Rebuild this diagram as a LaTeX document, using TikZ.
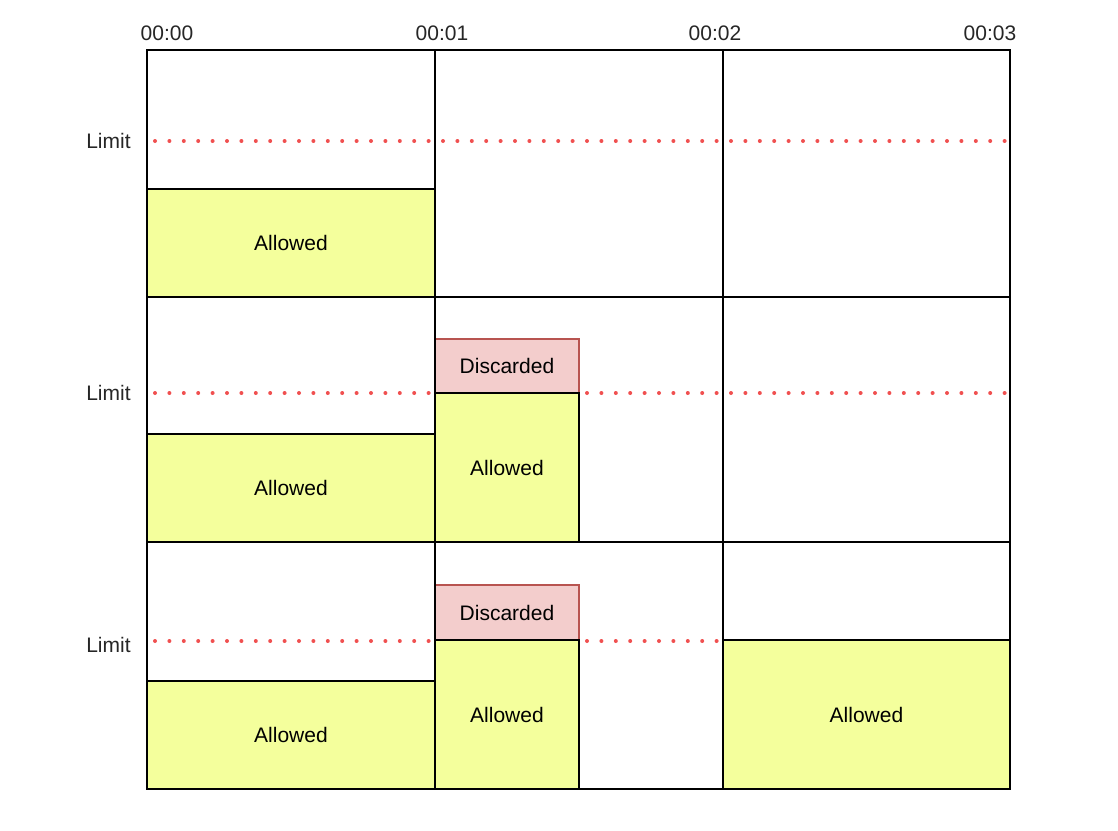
\documentclass[tikz,border=0pt]{standalone}
\usepackage{fontspec}
\setmainfont{Liberation Sans}
\usepackage{xcolor}
\definecolor{allowfill}{HTML}{F4FF9C}
\definecolor{discfill}{HTML}{F3CDCC}
\definecolor{discline}{HTML}{B85450}
\definecolor{limitred}{HTML}{F05050}
\tikzset{
  cell/.style={draw=black, line width=0.75pt},
  allowed/.style={draw=black, line width=0.75pt, fill=allowfill, anchor=north west, inner sep=0pt, outer sep=0pt, font=\fontsize{10.5}{12}\selectfont},
  discarded/.style={draw=discline, line width=0.75pt, fill=discfill, anchor=north west, inner sep=0pt, outer sep=0pt, font=\fontsize{10.5}{12}\selectfont},
  limitline/.style={draw=limitred, line width=2pt, line cap=round, dash pattern=on 0pt off 7.2pt},
  lbl/.style={font=\fontsize{10.5}{12}\selectfont, inner sep=0pt, text=black!85}
}
\begin{document}
\begin{tikzpicture}[x=0.5pt,y=-0.5pt]
            \useasboundingbox (0,0) rectangle (1118,830);
            % time axis
            \node[lbl] (t0) at (167,33) {00:00};
            \node[lbl] (t1) at (442,33) {00:01};
            \node[lbl] (t2) at (715,33) {00:02};
            \node[lbl] (t3) at (990,33) {00:03};
            % limits
            \node[lbl, anchor=east] (limA) at (131,141) {Limit};
            \node[lbl, anchor=east] (limB) at (131,393) {Limit};
            \node[lbl, anchor=east] (limC) at (131,645) {Limit};
            \coordinate (lA1) at (155,141); \coordinate (lA2) at (1008,141);
            \coordinate (lB1) at (155,393); \coordinate (lB2) at (1008,393);
            \coordinate (lC1) at (155,641); \coordinate (lC2) at (720,641);
            \draw[limitline] (lA1) -- (lA2);
            \draw[limitline] (lB1) -- (lB2);
            \draw[limitline] (lC1) -- (lC2);
            % first row
            \node[allowed, minimum width=144pt, minimum height=54pt] (okA) at (147,189) {Allowed};
            % second row
            \node[allowed, minimum width=144pt, minimum height=54pt] (okB) at (147,434) {Allowed};
            \node[discarded, minimum width=72pt, minimum height=27pt] (noB) at (435,339) {Discarded};
            \node[allowed, minimum width=72pt, minimum height=74.5pt] (okB2) at (435,393) {Allowed};
            % third row
            \node[allowed, minimum width=144pt, minimum height=54pt] (okC) at (147,681) {Allowed};
            \node[discarded, minimum width=72pt, minimum height=27.5pt] (noC) at (435,585) {Discarded};
            \node[allowed, minimum width=72pt, minimum height=74.5pt] (okC2) at (435,640) {Allowed};
            \node[allowed, minimum width=143.5pt, minimum height=74.5pt] (okC3) at (723,640) {Allowed};
            % grid
            \foreach \top/\bot in {50/297, 297/542, 542/789} {
                \draw[cell] (147,\top) rectangle (1010,\bot);
                \draw[cell] (435,\top) -- (435,\bot);
                \draw[cell] (723,\top) -- (723,\bot);
            }
        \end{tikzpicture}
\end{document}
